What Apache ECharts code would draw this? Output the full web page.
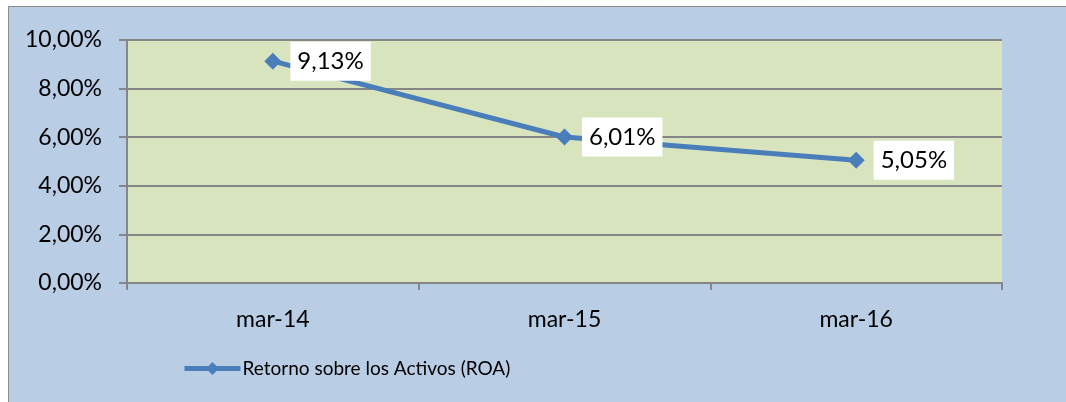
<!DOCTYPE html>
<html>
<head>
<meta charset="utf-8">
<script src="https://cdn.jsdelivr.net/npm/echarts@6/dist/echarts.min.js"></script>
<style>
  html, body { margin: 0; padding: 0; background: #fff; }
  #chart { width: 1066px; height: 402px; }
</style>
</head>
<body>
<div id="chart"></div>
<script>
// datos del gráfico ROA
const categorias = ['mar-14', 'mar-15', 'mar-16']
const roa = [9.13, 6.01, 5.05]
const nombreSerie = 'Retorno sobre los Activos (ROA)'

const fmt = (v, dec) => v.toFixed(dec).replace('.', ',') + '%'

const myChart = echarts.init(document.getElementById('chart'))

const option = {
  backgroundColor: '#fff',
  textStyle: { fontFamily: 'Lato' },
  graphic: [
    {
      type: 'rect',
      z: -10,
      shape: { x: 8.5, y: 6.5, width: 1070, height: 400 },
      style: { fill: '#B9CDE5', stroke: '#8C8C8C', lineWidth: 1 }
    }
  ],
  grid: {
    left: 127,
    right: 64,
    top: 40,
    bottom: 119,
    show: true,
    backgroundColor: '#D7E4BD',
    borderWidth: 0
  },
  legend: {
    left: 182,
    top: 359,
    padding: 0,
    itemWidth: 56,
    itemHeight: 16,
    itemGap: 2,
    lineStyle: { width: 5 },
    textStyle: { fontSize: 19, color: '#000', fontFamily: 'Lato', padding: [0, 0, 0, -3] },
    data: [nombreSerie]
  },
  xAxis: {
    type: 'category',
    data: categorias,
    boundaryGap: true,
    axisLine: { lineStyle: { color: '#868686', width: 2 } },
    axisTick: { show: true, length: 7, lineStyle: { color: '#868686', width: 2 } },
    axisLabel: { fontSize: 23, color: '#000', margin: 25 }
  },
  yAxis: {
    type: 'value',
    min: 0,
    max: 10,
    interval: 2,
    axisLine: { show: true, lineStyle: { color: '#868686', width: 2 } },
    axisTick: { show: true, length: 8, lineStyle: { color: '#868686', width: 2 } },
    axisLabel: {
      fontSize: 23,
      color: '#000',
      margin: 25,
      formatter: (v) => fmt(v, 2)
    },
    splitLine: { lineStyle: { color: '#868686', width: 2 } }
  },
  series: [
    {
      name: nombreSerie,
      type: 'line',
      data: roa,
      color: '#4A7EBB',
      symbol: 'diamond',
      symbolSize: 17,
      lineStyle: { width: 5, color: '#4A7EBB' },
      itemStyle: { color: '#4A7EBB' },
      label: {
        show: true,
        position: 'right',
        distance: 9,
        backgroundColor: '#fff',
        padding: [8, 7, 7, 7],
        fontSize: 24,
        color: '#000',
        formatter: (p) => fmt(p.value, 2)
      }
    }
  ]
}

myChart.setOption(option)
</script>
</body>
</html>
